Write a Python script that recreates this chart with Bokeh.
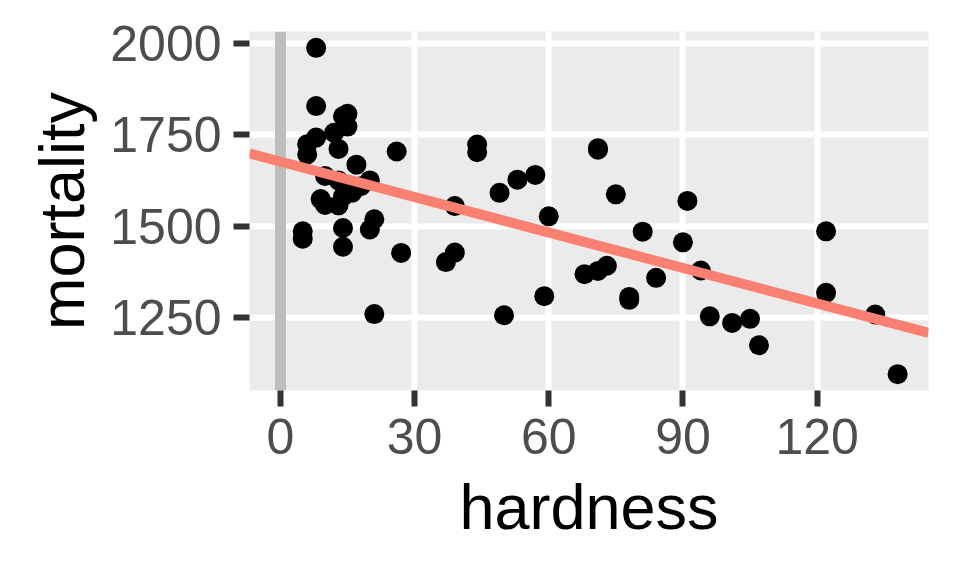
import numpy as np
from bokeh.plotting import figure
from bokeh.models import Range1d, FixedTicker
from bokeh.embed import file_html
from bokeh.resources import INLINE

# water dataset: hardness vs mortality (61 towns)
hardness = [105, 17, 5, 14, 18, 10, 15, 78, 10, 84, 73, 12, 21, 78, 96, 20, 39, 39, 122, 21,
            44, 94, 8, 9, 91, 138, 16, 37, 15, 8, 26, 44, 14, 59, 133, 27, 6, 107, 5, 90,
            6, 101, 13, 14, 49, 8, 14, 68, 50, 75, 71, 13, 57, 71, 13, 20, 60, 53, 122, 81, 71]
mortality = [1247, 1668, 1466, 1800, 1609, 1558, 1807, 1299, 1637, 1359, 1392, 1755, 1519, 1307, 1254,
             1491, 1555, 1428, 1318, 1260, 1723, 1379, 1742, 1574, 1569, 1096, 1591, 1402, 1772, 1828,
             1704, 1702, 1581, 1309, 1259, 1427, 1724, 1175, 1486, 1456, 1696, 1236, 1711, 1444, 1591,
             1987, 1495, 1369, 1257, 1587, 1713, 1557, 1640, 1709, 1625, 1625, 1527, 1627, 1486, 1485, 1378]
x_ticks = [0, 30, 60, 90, 120]
y_ticks = [1250, 1500, 1750, 2000]
vline_x = [0]

FONT = "Liberation Sans"

xr = Range1d(-6.9, 144.9)
yr = Range1d(1051.45, 2031.55)

p = figure(width=952, height=568, x_range=xr, y_range=yr,
           output_backend="svg", toolbar_location=None,
           min_border_left=249, min_border_right=24, min_border_top=31, min_border_bottom=178)

p.background_fill_color = "#EBEBEB"
p.border_fill_color = "white"
p.outline_line_color = None

for g in (p.xgrid, p.ygrid):
    g.grid_line_color = "white"
    g.grid_line_width = 6
p.xgrid.ticker = FixedTicker(ticks=x_ticks)
p.ygrid.ticker = FixedTicker(ticks=y_ticks)

p.xaxis.ticker = FixedTicker(ticks=x_ticks)
p.yaxis.ticker = FixedTicker(ticks=y_ticks)
for ax in (p.xaxis, p.yaxis):
    ax.axis_line_color = None
    ax.major_tick_line_color = "#333333"
    ax.major_tick_line_width = 6
    ax.major_tick_out = 16
    ax.major_tick_in = 0
    ax.minor_tick_line_color = None
    ax.major_label_text_font = FONT
    ax.major_label_text_font_size = "50px"
    ax.major_label_text_color = "#4D4D4D"
    ax.axis_label_text_font = FONT
    ax.axis_label_text_font_size = "63px"
    ax.axis_label_text_font_style = "normal"
    ax.axis_label_text_color = "black"

p.xaxis.axis_label = "hardness"
p.yaxis.axis_label = "mortality"
p.xaxis.major_label_standoff = 12
p.yaxis.major_label_standoff = 12
p.xaxis.axis_label_standoff = 15
p.yaxis.axis_label_standoff = 10

p.vspan(x=vline_x, line_color="#BEBEBE", line_width=11)

p.scatter(hardness, mortality, size=20, fill_color="black", line_color="black", line_width=0)

slope, intercept = np.polyfit(hardness, mortality, 1)
lx = [xr.start, xr.end]
ly = [intercept + slope * v for v in lx]
p.line(lx, ly, line_color="#FA8072", line_width=10)

open("out.html", "w").write(file_html(p, INLINE))
